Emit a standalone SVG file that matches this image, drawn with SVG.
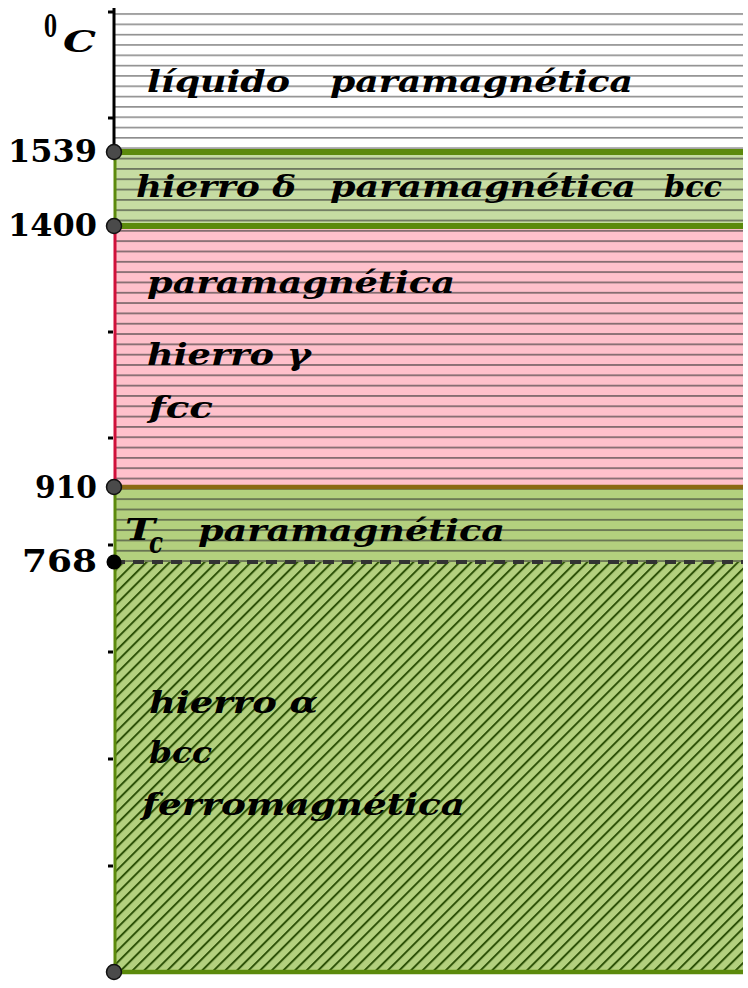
<svg xmlns="http://www.w3.org/2000/svg" width="748" height="988" viewBox="0 0 748 988">
<style>
.lbl{font-family:"DejaVu Serif","Liberation Serif",serif;font-weight:bold;font-style:italic;font-size:30px;fill:#000}
.num{font-family:"DejaVu Serif","Liberation Serif",serif;font-weight:bold;font-size:31px;fill:#000}
.pt{fill:#4a4a4a;stroke:#111;stroke-width:1.5}
.tick{stroke:#000;stroke-width:3}
</style>
<defs>
<pattern id="hlGray" patternUnits="userSpaceOnUse" x="0" y="13.2" width="20" height="10.32">
<rect x="0" y="0" width="20" height="1.6" fill="#8c8c8c"/>
</pattern>
<pattern id="hlDark" patternUnits="userSpaceOnUse" x="0" y="13.2" width="20" height="10.32">
<rect x="0" y="0" width="20" height="1.8" fill="#333" fill-opacity="0.6"/>
</pattern>
<pattern id="hatch" patternUnits="userSpaceOnUse" width="8.2" height="8.2" patternTransform="rotate(45)">
<rect x="0" y="0" width="2" height="8.2" fill="#2e5208"/>
</pattern>
</defs>
<rect width="748" height="988" fill="#fff"/>

<g id="liquido">
<rect x="114" y="12" width="629" height="140" fill="url(#hlGray)"/>
<text class="lbl" x="147" y="92" textLength="143" lengthAdjust="spacingAndGlyphs">líquido</text>
<text class="lbl" x="330" y="92" textLength="303" lengthAdjust="spacingAndGlyphs">paramagnética</text>
</g>

<g id="delta">
<rect x="114" y="152" width="629" height="74" fill="#c6dca2"/>
<rect x="114" y="152" width="629" height="74" fill="url(#hlDark)"/>
<line x1="114" y1="152" x2="743" y2="152" stroke="#5c8a0c" stroke-width="6"/>
<line x1="114" y1="226" x2="743" y2="226" stroke="#5c8a0c" stroke-width="6"/>
<line x1="115" y1="152" x2="115" y2="226" stroke="#5c8a0c" stroke-width="3"/>
<text class="lbl" x="136" y="197" textLength="160" lengthAdjust="spacingAndGlyphs">hierro δ</text>
<text class="lbl" x="330" y="197" textLength="306" lengthAdjust="spacingAndGlyphs">paramagnética</text>
<text class="lbl" x="664" y="197" textLength="58" lengthAdjust="spacingAndGlyphs">bcc</text>
</g>

<g id="gamma">
<rect x="114" y="229" width="629" height="258" fill="#ffc0cb"/>
<rect x="114" y="229" width="629" height="258" fill="url(#hlDark)"/>
<line x1="115" y1="229" x2="115" y2="487" stroke="#d0103a" stroke-width="3"/>
<text class="lbl" x="147" y="293" textLength="308" lengthAdjust="spacingAndGlyphs">paramagnética</text>
<text class="lbl" x="147" y="365" textLength="164" lengthAdjust="spacingAndGlyphs">hierro γ</text>
<text class="lbl" x="149" y="418" textLength="64" lengthAdjust="spacingAndGlyphs">fcc</text>
</g>

<g id="beta">
<rect x="114" y="487" width="629" height="75" fill="#b3d07e"/>
<rect x="114" y="487" width="629" height="75" fill="url(#hlDark)"/>
<line x1="114" y1="487" x2="743" y2="487" stroke="#8b6914" stroke-width="4.5"/>
<line x1="115" y1="489" x2="115" y2="562" stroke="#5c8a0c" stroke-width="3"/>
<text class="lbl" x="125" y="540" textLength="30" lengthAdjust="spacingAndGlyphs">T</text>
<text class="lbl" x="149" y="553" font-size="20" textLength="14" lengthAdjust="spacingAndGlyphs">c</text>
<text class="lbl" x="198" y="541" textLength="307" lengthAdjust="spacingAndGlyphs">paramagnética</text>
</g>

<g id="alpha">
<rect x="114" y="562" width="629" height="410" fill="#b3d07e"/>
<rect x="114" y="562" width="629" height="410" fill="url(#hatch)"/>
<line x1="115" y1="562" x2="115" y2="972" stroke="#5c8a0c" stroke-width="3"/>
<line x1="114" y1="972" x2="743" y2="972" stroke="#5c8a0c" stroke-width="4.5"/>
<text class="lbl" x="149" y="713" textLength="169" lengthAdjust="spacingAndGlyphs">hierro α</text>
<text class="lbl" x="149" y="763" textLength="63" lengthAdjust="spacingAndGlyphs">bcc</text>
<text class="lbl" x="142" y="815" textLength="323" lengthAdjust="spacingAndGlyphs">ferromagnética</text>
</g>

<g id="connectors">
<line x1="114" y1="8" x2="114" y2="152" stroke="#000" stroke-width="3"/>
<line x1="114" y1="562" x2="743" y2="562" stroke="#333" stroke-width="4" stroke-dasharray="11 8"/>
<g id="ticks">
<line class="tick" x1="108" y1="12" x2="113" y2="12"/>
<line class="tick" x1="108" y1="118" x2="113" y2="118"/>
<line class="tick" x1="108" y1="332" x2="113" y2="332"/>
<line class="tick" x1="108" y1="438" x2="113" y2="438"/>
<line class="tick" x1="108" y1="545" x2="113" y2="545"/>
<line class="tick" x1="108" y1="652" x2="113" y2="652"/>
<line class="tick" x1="108" y1="759" x2="113" y2="759"/>
<line class="tick" x1="108" y1="866" x2="113" y2="866"/>
</g>
</g>

<g id="axis-labels">
<text class="num" x="44" y="37" font-size="20" textLength="13" lengthAdjust="spacingAndGlyphs">0</text>
<text class="lbl" x="63" y="52" font-size="33" textLength="33" lengthAdjust="spacingAndGlyphs">C</text>
<text class="num" x="8" y="162" textLength="89" lengthAdjust="spacingAndGlyphs">1539</text>
<text class="num" x="8" y="236" textLength="89" lengthAdjust="spacingAndGlyphs">1400</text>
<text class="num" x="35" y="498" textLength="62" lengthAdjust="spacingAndGlyphs">910</text>
<text class="num" x="22" y="572" textLength="75" lengthAdjust="spacingAndGlyphs">768</text>
</g>

<g id="points">
<circle class="pt" cx="114" cy="152" r="7.5"/>
<circle class="pt" cx="114" cy="226" r="7.5"/>
<circle class="pt" cx="114" cy="487" r="7.5"/>
<circle cx="114" cy="562" r="7.5" fill="#000"/>
<circle class="pt" cx="114" cy="972" r="7.5"/>
</g>
</svg>
